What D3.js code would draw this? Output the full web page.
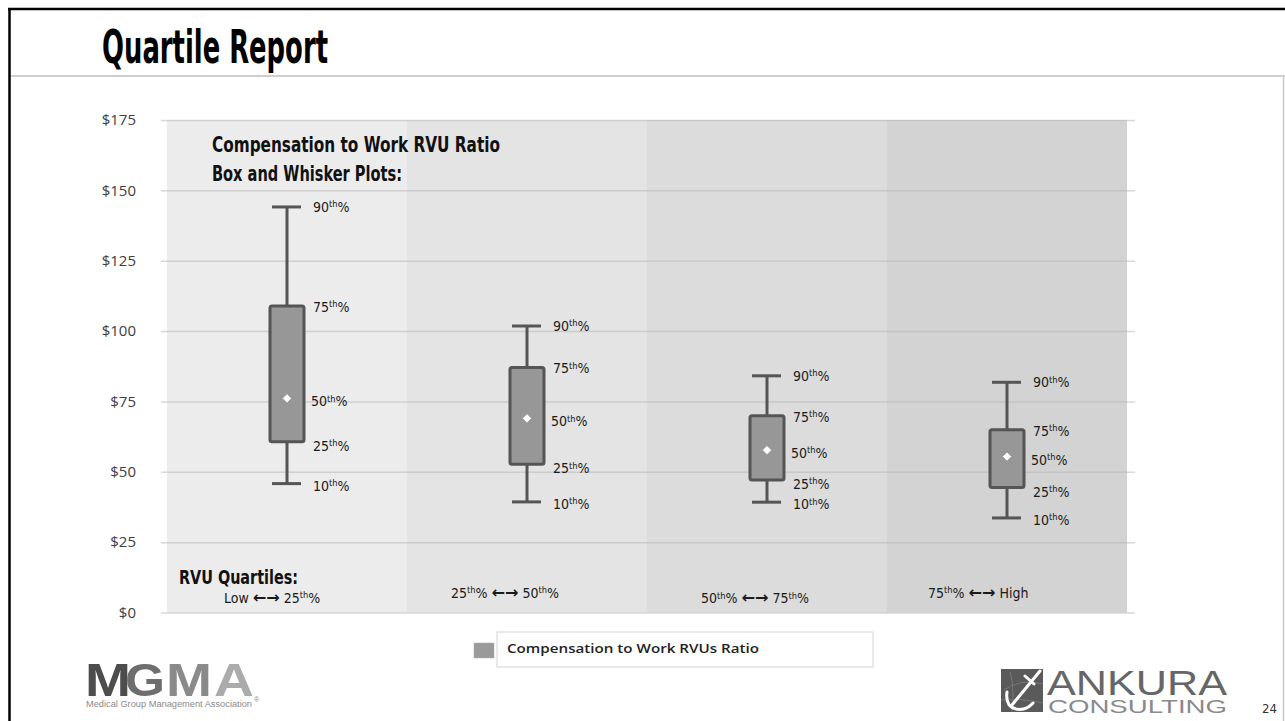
<!DOCTYPE html>
<html>
<head>
<meta charset="utf-8">
<script src="https://cdn.jsdelivr.net/npm/d3@7"></script>
<style>
  html, body { margin: 0; padding: 0; background: #fff; }
  svg { display: block; }
  .narrow { font-family: "Liberation Sans Narrow", "DejaVu Sans Condensed", "Arial Narrow", sans-serif; }
</style>
</head>
<body>
<svg id="chart" width="1285" height="721"></svg>
<script>
// ---------------- data ----------------
const categories = ["Low ←→ 25th%", "25th% ←→ 50th%", "50th% ←→ 75th%", "75th% ←→ High"];
const p10 = [45.8, 39.3, 39.2, 33.6];
const p25 = [60.7, 52.7, 47.1, 44.4];
const p50 = [76.1, 69.0, 57.7, 55.4];
const p75 = [108.9, 87.1, 69.9, 64.9];
const p90 = [144.1, 101.8, 84.1, 81.8];
const percentileLabels = ["10th%", "25th%", "50th%", "75th%", "90th%"];
const yTicks = [0, 25, 50, 75, 100, 125, 150, 175];
const seriesName = "Compensation to Work RVUs Ratio";

// ---------------- layout / style ----------------
const bandFills = ["#ececec", "#e4e4e4", "#dcdcdc", "#d3d3d3"];
const labelNudge = [2, 4, 3, 1, 0];          // per percentile baseline nudge
const quartileLabelDx = [57, 44, 54, 41];     // from band start
const quartileLabelY = [602.5, 598, 603.3, 598];

const svg = d3.select("#chart");

const x = d3.scaleBand().domain(categories).range([167, 1127]).padding(0);
const y = d3.scaleLinear().domain([0, 175]).range([612.5, 120]);

// frame
svg.append("line").attr("x1", 8).attr("x2", 1285).attr("y1", 9).attr("y2", 9)
  .attr("stroke", "#000").attr("stroke-width", 2.5);
svg.append("line").attr("x1", 9.5).attr("x2", 9.5).attr("y1", 8).attr("y2", 721)
  .attr("stroke", "#000").attr("stroke-width", 2.5);
svg.append("line").attr("x1", 11).attr("x2", 1285).attr("y1", 76).attr("y2", 76)
  .attr("stroke", "#cfcfcf").attr("stroke-width", 2);
svg.append("line").attr("x1", 1283.5).attr("x2", 1283.5).attr("y1", 77).attr("y2", 721)
  .attr("stroke", "#c8c8c8").attr("stroke-width", 1.5);

// title
svg.append("text").attr("class", "narrow")
  .attr("x", 102).attr("y", 63)
  .attr("font-size", 47).attr("font-weight", "bold").attr("fill", "#000")
  .attr("textLength", 226).attr("lengthAdjust", "spacingAndGlyphs")
  .text("Quartile Report");

// bands
svg.append("g").selectAll("rect").data(categories).join("rect")
  .attr("x", d => x(d)).attr("y", y(175))
  .attr("width", x.bandwidth()).attr("height", y(0) - y(175))
  .attr("fill", (d, i) => bandFills[i]);

// gridlines
const grid = svg.append("g").attr("transform", "translate(161,0)")
  .call(d3.axisLeft(y).tickValues(yTicks).tickSize(-(1135 - 161)).tickFormat(""));
grid.select(".domain").remove();
grid.selectAll(".tick line").attr("stroke", "#b8b8b8").attr("stroke-opacity", 0.55).attr("stroke-width", 1.5);

// y axis labels
const yAxis = svg.append("g").attr("transform", "translate(161,0)")
  .call(d3.axisLeft(y).tickValues(yTicks).tickSize(0).tickPadding(25).tickFormat(d => "$" + d));
yAxis.select(".domain").remove();
yAxis.selectAll("text").attr("font-family", "'Open Sans', sans-serif").attr("font-size", 15).attr("fill", "#404040");

// in-chart heading
svg.append("text").attr("class", "narrow").attr("x", 212).attr("y", 152)
  .attr("font-size", 21).attr("font-weight", "bold").attr("fill", "#111")
  .attr("textLength", 288).attr("lengthAdjust", "spacingAndGlyphs")
  .text("Compensation to Work RVU Ratio");
svg.append("text").attr("class", "narrow").attr("x", 212).attr("y", 181)
  .attr("font-size", 21).attr("font-weight", "bold").attr("fill", "#111")
  .attr("textLength", 190).attr("lengthAdjust", "spacingAndGlyphs")
  .text("Box and Whisker Plots:");
svg.append("text").attr("class", "narrow").attr("x", 179).attr("y", 584)
  .attr("font-size", 20).attr("font-weight", "bold").attr("fill", "#111")
  .attr("textLength", 119).attr("lengthAdjust", "spacingAndGlyphs")
  .text("RVU Quartiles:");

// helper for text with superscript "th" and larger arrows
function supText(sel, str, fs) {
  const parts = str.split(/(th(?=%)|←→)/);
  let raised = false;
  parts.forEach(p => {
    if (!p.length) return;
    let t;
    if (p === "th") {
      sel.append("tspan").attr("font-size", fs * 0.66).attr("dy", -fs * 0.33).text("th");
      raised = true;
      return;
    } else if (p === "←→") {
      t = sel.append("tspan").attr("font-family", "'DejaVu Sans', sans-serif")
        .attr("font-size", fs * 1.15).attr("font-weight", "bold").text("←→");
    } else {
      t = sel.append("tspan").attr("font-size", fs).attr("font-weight", "normal").text(p);
    }
    if (raised) { t.attr("dy", fs * 0.33); raised = false; }
  });
}

// boxes
const boxes = categories.map((c, i) => ({c, i, v: [p10[i], p25[i], p50[i], p75[i], p90[i]]}));
const g = svg.append("g");
const stroke = "#555";
boxes.forEach(b => {
  const cx = x(b.c) + x.bandwidth() / 2;
  // whiskers
  g.append("line").attr("x1", cx).attr("x2", cx).attr("y1", y(b.v[4])).attr("y2", y(b.v[3]))
    .attr("stroke", stroke).attr("stroke-width", 3);
  g.append("line").attr("x1", cx).attr("x2", cx).attr("y1", y(b.v[1])).attr("y2", y(b.v[0]))
    .attr("stroke", stroke).attr("stroke-width", 3);
  // caps
  [b.v[0], b.v[4]].forEach(v => {
    g.append("line").attr("x1", cx - 15).attr("x2", cx + 14).attr("y1", y(v)).attr("y2", y(v))
      .attr("stroke", stroke).attr("stroke-width", 3);
  });
  // box
  g.append("rect").attr("x", cx - 17).attr("width", 34)
    .attr("y", y(b.v[3])).attr("height", y(b.v[1]) - y(b.v[3]))
    .attr("rx", 2).attr("fill", "#979797").attr("stroke", stroke).attr("stroke-width", 3);
  // median diamond
  g.append("path").attr("d", d3.symbol(d3.symbolSquare, 42)())
    .attr("transform", `translate(${cx},${y(b.v[2])}) rotate(45)`)
    .attr("fill", "#fff").attr("stroke", "#999").attr("stroke-width", 0.8);
  // labels
  b.v.forEach((v, k) => {
    const t = g.append("text").attr("class", "narrow")
      .attr("x", cx + (k === 2 ? 24 : 26)).attr("y", y(v) + 5 + labelNudge[k])
      .attr("font-size", 14).attr("fill", "#1a1a1a");
    supText(t, percentileLabels[k], 14);
  });
});

// quartile labels
categories.forEach((c, i) => {
  const t = svg.append("text").attr("class", "narrow")
    .attr("x", x(c) + quartileLabelDx[i]).attr("y", quartileLabelY[i])
    .attr("font-size", 14).attr("fill", "#1a1a1a").attr("xml:space", "preserve")
    .style("white-space", "pre");
  supText(t, c, 14);
});

// legend
svg.append("rect").attr("x", 497).attr("y", 632).attr("width", 376).attr("height", 35)
  .attr("fill", "none").attr("stroke", "#d4d4d4").attr("stroke-width", 1);
svg.append("rect").attr("x", 474).attr("y", 643).attr("width", 20).attr("height", 15)
  .attr("fill", "#9a9a9a").attr("stroke", "#b0b0b0").attr("stroke-width", 0.5);
svg.append("text").attr("x", 507).attr("y", 653)
  .attr("font-family", "'Open Sans', sans-serif").attr("font-weight", 600).attr("font-size", 13)
  .attr("fill", "#222").attr("textLength", 252).attr("lengthAdjust", "spacingAndGlyphs")
  .text(seriesName);

// MGMA logo
const mg = svg.append("g").attr("font-family", "'Liberation Sans', Arial, sans-serif").attr("font-weight", "bold").attr("font-size", 46);
[["M", 85, "#4d4d4d"], ["G", 125, "#6e6e6e"], ["M", 166, "#8a8a8a"], ["A", 214, "#ababab"]].forEach(([ch, xx, col]) => {
  mg.append("text").attr("x", xx).attr("y", 696).attr("fill", col)
    .attr("textLength", ch === "M" ? 46 : 40).attr("lengthAdjust", "spacingAndGlyphs").text(ch);
});
svg.append("text").attr("x", 86).attr("y", 707)
  .attr("font-family", "'Liberation Sans', Arial, sans-serif").attr("font-size", 8.5).attr("fill", "#8a8a8a")
  .attr("textLength", 166).attr("lengthAdjust", "spacingAndGlyphs")
  .text("Medical Group Management Association");
svg.append("text").attr("x", 254).attr("y", 702)
  .attr("font-family", "'Liberation Sans', Arial, sans-serif").attr("font-size", 7).attr("fill", "#8a8a8a").text("®");

// ANKURA logo
const ak = svg.append("g");
ak.append("rect").attr("x", 1001).attr("y", 669).attr("width", 42).attr("height", 43).attr("fill", "#5a5a5a");
ak.append("path").attr("d", "M1004,690 Q1020,678 1043,684 M1010,672 Q1015,690 1012,712 M1001,700 Q1022,698 1043,703")
  .attr("fill", "none").attr("stroke", "#777").attr("stroke-width", 1);
ak.append("path").attr("d", "M1040,671 L1012,705 M1007,692 Q1005,706 1016,709 Q1026,711 1033,703 M1025,676 L1034,684")
  .attr("fill", "none").attr("stroke", "#fff").attr("stroke-width", 3).attr("stroke-linecap", "round");
ak.append("text").attr("x", 1047).attr("y", 695)
  .attr("font-family", "'Liberation Sans', Arial, sans-serif").attr("font-size", 35).attr("fill", "#666")
  .attr("textLength", 180).attr("lengthAdjust", "spacingAndGlyphs").text("ANKURA");
ak.append("text").attr("x", 1048).attr("y", 713)
  .attr("font-family", "'Liberation Sans', Arial, sans-serif").attr("font-size", 19).attr("fill", "#8a8a8a")
  .attr("textLength", 179).attr("lengthAdjust", "spacingAndGlyphs").text("CONSULTING");

// page number
svg.append("text").attr("class", "narrow").attr("x", 1262).attr("y", 713)
  .attr("font-size", 13).attr("fill", "#333").text("24");
</script>
</body>
</html>
